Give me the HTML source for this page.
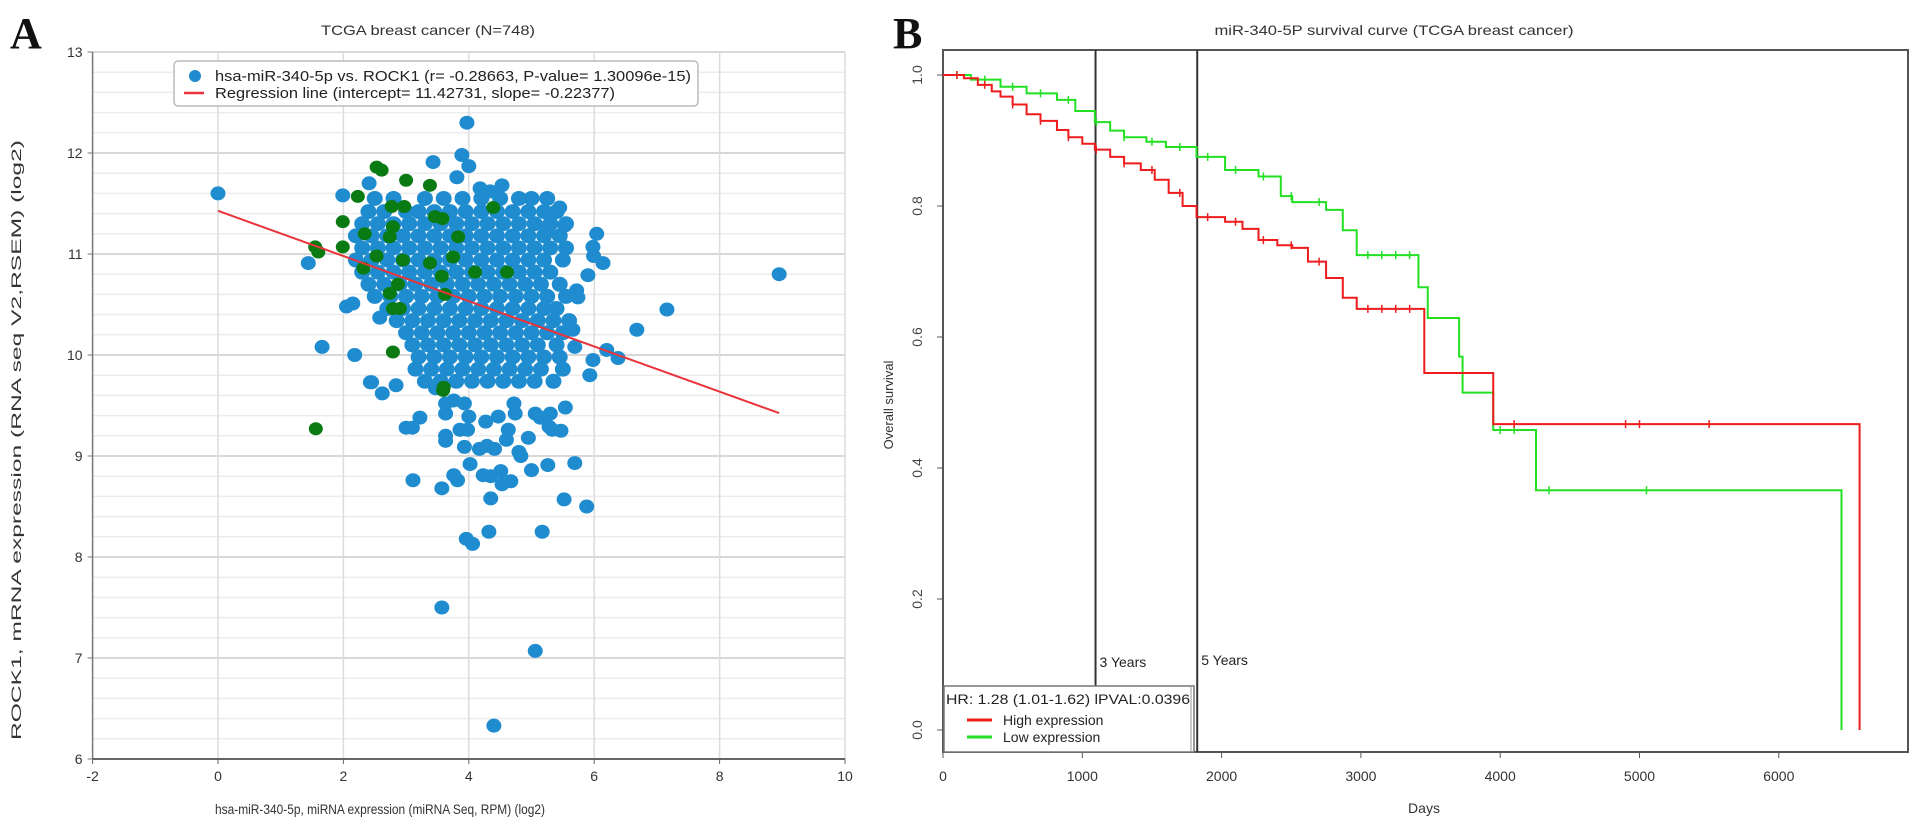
<!DOCTYPE html>
<html><head><meta charset="utf-8"><style>
html,body{margin:0;padding:0;background:#fff;}
svg{display:block;font-family:"Liberation Sans",Arial,sans-serif;}
</style></head><body>
<svg id="fig" width="1913" height="835" viewBox="0 0 1913 835" xmlns="http://www.w3.org/2000/svg">
<g id="panelA"></g>
<g id="panelB"></g>
</svg>
<script>
// ---------- Panel A data ----------
const xTicks = [-2,0,2,4,6,8,10];
const yTicks = [6,7,8,9,10,11,12,13];
const coreRowY = [11.55,11.42,11.3,11.18,11.06,10.94,10.82,10.7,10.58,10.46,10.34,10.22,10.1,9.98,9.86,9.74];
const coreRowX = [
 [2.5,2.8,3.3,3.6,3.9,4.2,4.5,4.8,5.0,5.25],
 [2.4,2.65,3.0,3.2,3.45,3.7,3.95,4.2,4.45,4.7,4.95,5.2,5.4],
 [2.3,2.55,2.8,3.05,3.3,3.55,3.8,4.05,4.3,4.55,4.8,5.05,5.3,5.55],
 [2.2,2.45,2.7,2.95,3.2,3.45,3.7,3.95,4.2,4.45,4.7,4.95,5.2,5.45],
 [2.3,2.55,2.8,3.05,3.3,3.55,3.8,4.05,4.3,4.55,4.8,5.05,5.3,5.55],
 [2.2,2.45,2.7,2.95,3.2,3.45,3.7,3.95,4.2,4.45,4.7,4.95,5.2,5.5],
 [2.3,2.55,2.8,3.05,3.3,3.55,3.8,4.05,4.3,4.55,4.8,5.05,5.3],
 [2.4,2.65,2.9,3.15,3.4,3.65,3.9,4.15,4.4,4.65,4.9,5.15,5.45],
 [2.5,2.75,3.0,3.25,3.5,3.75,4.0,4.25,4.5,4.75,5.0,5.25,5.55],
 [2.7,2.95,3.2,3.45,3.7,3.95,4.2,4.45,4.7,4.95,5.2,5.4],
 [2.85,3.1,3.35,3.6,3.85,4.1,4.35,4.6,4.85,5.1,5.35,5.6],
 [3.0,3.25,3.5,3.75,4.0,4.25,4.5,4.75,5.0,5.25,5.5],
 [3.1,3.35,3.6,3.85,4.1,4.35,4.6,4.85,5.1,5.4],
 [3.2,3.45,3.7,3.95,4.2,4.45,4.7,4.95,5.2,5.45],
 [3.15,3.4,3.65,3.9,4.15,4.4,4.65,4.9,5.15,5.5],
 [3.3,3.55,3.8,4.05,4.3,4.55,4.8,5.05,5.35]
];
const blueX = [0,8.95,3.97,3.89,4.0,3.43,3.81,4.53,4.18,4.34,2.41,1.99,1.44,1.66,2.18,2.45,2.58,2.05,2.15,7.16,6.68,6.38,6.2,6.04,5.98,5.99,6.14,5.9,5.72,5.74,5.45,5.53,5.25,5.66,5.69,5.93,5.98,
 3.57,5.06,4.40,3.96,4.06,4.32,5.17,5.52,5.88,3.11,3.57,4.35,5.69,5.26,5.0,4.02,3.76,3.82,4.23,4.35,4.53,4.67,4.51,3.93,4.17,4.29,4.41,4.8,4.83,3.63,3.63,3.86,3.98,3.0,3.22,3.1,4.27,4.47,4.63,4.6,4.95,5.06,5.14,5.3,5.33,5.47,5.28,5.54,4.74,4.72,4.0,3.63,3.63,3.76,3.93,2.62,2.84,2.43,3.47];
const blueY = [11.6,10.8,12.30,11.98,11.87,11.91,11.76,11.68,11.65,11.62,11.70,11.58,10.91,10.08,10.0,9.73,10.37,10.48,10.51,10.45,10.25,9.97,10.05,11.2,11.07,10.98,10.91,10.79,10.64,10.57,11.46,11.28,11.25,10.25,10.08,9.8,9.95,
 7.5,7.07,6.33,8.18,8.13,8.25,8.25,8.57,8.50,8.76,8.68,8.58,8.93,8.91,8.86,8.92,8.81,8.76,8.81,8.80,8.72,8.75,8.85,9.09,9.07,9.10,9.07,9.04,9.0,9.15,9.2,9.26,9.26,9.28,9.38,9.28,9.34,9.39,9.26,9.16,9.18,9.42,9.38,9.42,9.26,9.25,9.29,9.48,9.42,9.52,9.39,9.42,9.52,9.55,9.52,9.62,9.7,9.73,9.67];
const greenX = [1.56,2.53,2.61,3.0,3.38,2.23,1.99,1.99,1.55,1.6,2.34,2.53,2.77,2.97,2.79,2.74,3.46,3.58,3.83,4.39,3.75,3.38,3.57,2.32,2.74,2.79,2.9,2.79,3.62,2.95,2.87,4.10,3.59,4.61,3.6];
const greenY = [9.27,11.86,11.83,11.73,11.68,11.57,11.32,11.07,11.07,11.02,11.2,10.98,11.47,11.47,11.27,11.17,11.37,11.35,11.17,11.46,10.97,10.91,10.78,10.86,10.61,10.46,10.46,10.03,10.6,10.94,10.70,10.82,9.65,10.82,9.68];
const regIntercept = 11.42731;
const regSlope = -0.22377;
const regRange = [0,8.95];

// ---------- Panel B data ----------
const dayTicks = [0,1000,2000,3000,4000,5000,6000];
const survTicks = [0,0.2,0.4,0.6,0.8,1.0];
const redDays = [0,150,250,350,413,500,600,700,818,900,1000,1090,1200,1300,1420,1520,1620,1720,1820,2025,2150,2265,2400,2507,2620,2750,2870,2970,3455,3950,6580];
const redSurv = [1.0,0.995,0.985,0.975,0.967,0.955,0.94,0.93,0.916,0.905,0.895,0.886,0.875,0.865,0.855,0.84,0.82,0.8,0.783,0.776,0.765,0.748,0.74,0.736,0.715,0.69,0.66,0.643,0.545,0.467,0.0];
const greenDays = [0,200,413,600,818,950,1090,1200,1300,1460,1600,1820,2025,2265,2425,2507,2750,2870,2970,3413,3480,3705,3730,3950,4257,6450];
const greenSurv = [1.0,0.993,0.982,0.972,0.962,0.945,0.928,0.915,0.905,0.898,0.89,0.875,0.855,0.845,0.815,0.806,0.794,0.763,0.725,0.676,0.629,0.57,0.515,0.458,0.366,0.0];
const redCensor = [100,300,500,700,900,1100,1300,1500,1700,1900,2100,2300,2500,2700,3050,3150,3250,3350,4100,4900,5000,5500];
const greenCensor = [100,300,500,700,900,1100,1300,1500,1700,1900,2100,2300,2500,2700,3050,3150,3250,3350,4000,4100,4350,5050];
const yearLines = [1095,1825];
const yearLabels = ["3 Years","5 Years"];

const NS = "http://www.w3.org/2000/svg";
function mk(parent, tag, attrs, text){
  const e = document.createElementNS(NS, tag);
  for (const k in attrs) e.setAttribute(k, attrs[k]);
  if (text !== undefined) e.textContent = text;
  parent.appendChild(e);
  return e;
}

// ===== Panel A =====
const A = document.getElementById('panelA');
const ax = v => 218 + 62.7 * v;
const ay = v => 52 + (13 - v) * 101;
let t;
t = mk(A,'text',{x:10,y:48,'font-family':'Liberation Serif, serif','font-weight':'bold','font-size':44,fill:'#111'},'A');
 
t = mk(A,'text',{x:428,y:35,'text-anchor':'middle','font-size':14,fill:'#333',textLength:214,lengthAdjust:'spacingAndGlyphs'},'TCGA breast cancer (N=748)');
 
const grid = mk(A,'g',{});
 
for (let i = 0; i <= 35; i++) {
  const v = 6 + i * 0.2;
  const major = i % 5 === 0;
  mk(grid,'line',{x1:ax(-2),x2:ax(10),y1:ay(v),y2:ay(v),stroke:major?'#d8d8d8':'#ececec','stroke-width':major?2:1.5});
}
for (const v of xTicks) {
  if (v === -2) continue;
  mk(grid,'line',{x1:ax(v),x2:ax(v),y1:ay(13),y2:ay(6),stroke:'#dcdcdc','stroke-width':1.5});
}
let l = mk(A,'line',{x1:ax(-2),x2:ax(-2),y1:ay(13),y2:ay(6),stroke:'#777','stroke-width':1.5});
 
l = mk(A,'line',{x1:ax(-2),x2:ax(10),y1:ay(6),y2:ay(6),stroke:'#666','stroke-width':2});
 
for (const v of yTicks) {
  mk(A,'line',{x1:ax(-2)-5,x2:ax(-2),y1:ay(v),y2:ay(v),stroke:'#777'});
  t = mk(A,'text',{x:ax(-2)-10,y:ay(v)+5,'text-anchor':'end','font-size':14,fill:'#333'},String(v));
   
}
for (const v of xTicks) {
  mk(A,'line',{x1:ax(v),x2:ax(v),y1:ay(6),y2:ay(6)+5,stroke:'#666'});
  t = mk(A,'text',{x:ax(v),y:781,'text-anchor':'middle','font-size':14,fill:'#333'},String(v));
   
}
t = mk(A,'text',{x:380,y:814,'text-anchor':'middle','font-size':14,fill:'#333',textLength:330,lengthAdjust:'spacingAndGlyphs'},'hsa-miR-340-5p, miRNA expression (miRNA Seq, RPM) (log2)');
 
t = mk(A,'text',{x:0,y:0,'text-anchor':'middle','font-size':14,fill:'#333',transform:'translate(21,440) rotate(-90)',textLength:600,lengthAdjust:'spacingAndGlyphs'},'ROCK1, mRNA expression (RNA seq V2,RSEM) (log2)');
 
const pts = mk(A,'g',{});
 
coreRowY.forEach((yv, r) => {
  coreRowX[r].forEach(xv => {
    const c = mk(pts,'ellipse',{cx:ax(xv),cy:ay(yv),rx:8,ry:7.5,fill:'#1f8ccf'});
     
  });
});
blueX.forEach((xv, i) => {
  const c = mk(pts,'ellipse',{cx:ax(xv),cy:ay(blueY[i]),rx:7.5,ry:7,fill:'#1f8ccf'});
   
});
greenX.forEach((xv, i) => {
  const c = mk(pts,'ellipse',{cx:ax(xv),cy:ay(greenY[i]),rx:7,ry:6.5,fill:'#0a7a12'});
   
});
l = mk(A,'line',{x1:ax(regRange[0]),y1:ay(regIntercept+regSlope*regRange[0]),x2:ax(regRange[1]),y2:ay(regIntercept+regSlope*regRange[1]),stroke:'#e8343a','stroke-width':2});
 
const lg = mk(A,'g',{});
 
mk(lg,'rect',{x:174,y:61,width:524,height:45,rx:4,fill:'#fff',stroke:'#bbb','stroke-width':1.5});
mk(lg,'circle',{cx:195,cy:76,r:6,fill:'#1f8ccf'});
mk(lg,'line',{x1:184,x2:204,y1:93,y2:93,stroke:'#e8343a','stroke-width':2.5});
t = mk(lg,'text',{x:215,y:81,'font-size':15,fill:'#222',textLength:476,lengthAdjust:'spacingAndGlyphs'},'hsa-miR-340-5p vs. ROCK1 (r= -0.28663, P-value= 1.30096e-15)');
 
t = mk(lg,'text',{x:215,y:98,'font-size':15,fill:'#222',textLength:400,lengthAdjust:'spacingAndGlyphs'},'Regression line (intercept= 11.42731, slope= -0.22377)');
 

// ===== Panel B =====
const B = document.getElementById('panelB');
const bx = d => 943 + d * 0.1393;
const by = s => 730 - s * 655;
t = mk(B,'text',{x:893,y:48,'font-family':'Liberation Serif, serif','font-weight':'bold','font-size':44,fill:'#111'},'B');
 
t = mk(B,'text',{x:1394,y:35,'text-anchor':'middle','font-size':14,fill:'#333',textLength:359,lengthAdjust:'spacingAndGlyphs'},'miR-340-5P survival curve (TCGA breast cancer)');
 
let fr = mk(B,'rect',{x:943,y:50,width:965,height:702,fill:'none',stroke:'#555','stroke-width':2});
 
for (const s of survTicks) {
  mk(B,'line',{x1:937,x2:943,y1:by(s),y2:by(s),stroke:'#555'});
  t = mk(B,'text',{x:0,y:0,'text-anchor':'middle','font-size':14,fill:'#444',transform:`translate(922,${by(s)}) rotate(-90)`},s.toFixed(1));
   
}
for (const d of dayTicks) {
  mk(B,'line',{x1:bx(d),x2:bx(d),y1:752,y2:758,stroke:'#555'});
  t = mk(B,'text',{x:bx(d),y:781,'text-anchor':'middle','font-size':14,fill:'#333'},String(d));
   
}
t = mk(B,'text',{x:1424,y:813,'text-anchor':'middle','font-size':14,fill:'#333'},'Days');
 
t = mk(B,'text',{x:0,y:0,'text-anchor':'middle','font-size':13,fill:'#333',transform:'translate(893,405) rotate(-90)'},'Overall survival');
 
yearLines.forEach((d, i) => {
  const yl = mk(B,'line',{x1:bx(d),x2:bx(d),y1:50,y2:752,stroke:'#333','stroke-width':2});
   
  const yt = mk(B,'text',{x:bx(d)+4,y:i===0?667:665,'font-size':14,fill:'#222'},yearLabels[i]);
   
});
function stepPath(days, surv){
  let p = `M${bx(days[0])},${by(surv[0])}`;
  for (let i = 1; i < days.length; i++) p += ` H${bx(days[i])} V${by(surv[i])}`;
  return p;
}
function survAt(days, surv, d){
  let s = surv[0];
  for (let i = 0; i < days.length; i++) if (days[i] <= d) s = surv[i];
  return s;
}
const gp = mk(B,'path',{d:stepPath(greenDays,greenSurv),fill:'none',stroke:'#22e022','stroke-width':2});
 
const rp = mk(B,'path',{d:stepPath(redDays,redSurv),fill:'none',stroke:'#ee1c1c','stroke-width':2});
 
greenCensor.forEach(d => {
  const y = by(survAt(greenDays,greenSurv,d));
  const c = mk(B,'line',{x1:bx(d),x2:bx(d),y1:y-4,y2:y+4,stroke:'#22e022','stroke-width':1.5});
   
});
redCensor.forEach(d => {
  const y = by(survAt(redDays,redSurv,d));
  const c = mk(B,'line',{x1:bx(d),x2:bx(d),y1:y-4,y2:y+4,stroke:'#ee1c1c','stroke-width':1.5});
   
});
const hb = mk(B,'g',{});
 
mk(hb,'rect',{x:944,y:686,width:250,height:66,fill:'#fff',stroke:'#777','stroke-width':1.5});
mk(hb,'line',{x1:1191,x2:1191,y1:686,y2:752,stroke:'#999','stroke-width':1});
t = mk(hb,'text',{x:946,y:704,'font-size':14,fill:'#222',textLength:244,lengthAdjust:'spacingAndGlyphs'},'HR: 1.28 (1.01-1.62) lPVAL:0.0396');
 
mk(hb,'line',{x1:967,x2:992,y1:720,y2:720,stroke:'#ee1c1c','stroke-width':3});
mk(hb,'line',{x1:967,x2:992,y1:737,y2:737,stroke:'#22e022','stroke-width':3});
t = mk(hb,'text',{x:1003,y:725,'font-size':14,fill:'#222'},'High expression');
 
t = mk(hb,'text',{x:1003,y:742,'font-size':14,fill:'#222'},'Low expression');
 
</script>
</body></html>
